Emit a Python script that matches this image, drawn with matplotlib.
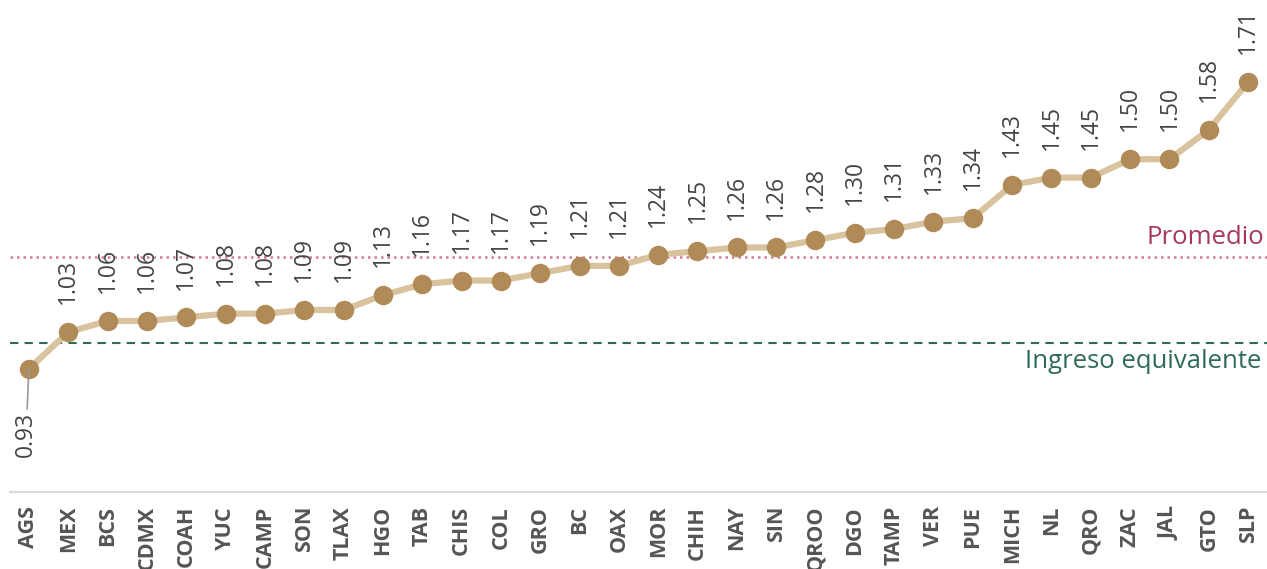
import matplotlib
matplotlib.use("Agg")
import matplotlib.pyplot as plt

plt.rcParams['font.family'] = ['Open Sans', 'DejaVu Sans']

states = ["AGS", "MEX", "BCS", "CDMX", "COAH", "YUC", "CAMP", "SON", "TLAX", "HGO",
          "TAB", "CHIS", "COL", "GRO", "BC", "OAX", "MOR", "CHIH", "NAY", "SIN",
          "QROO", "DGO", "TAMP", "VER", "PUE", "MICH", "NL", "QRO", "ZAC", "JAL",
          "GTO", "SLP"]
values = [0.93, 1.03, 1.06, 1.06, 1.07, 1.08, 1.08, 1.09, 1.09, 1.13,
          1.16, 1.17, 1.17, 1.19, 1.21, 1.21, 1.24, 1.25, 1.26, 1.26,
          1.28, 1.30, 1.31, 1.33, 1.34, 1.43, 1.45, 1.45, 1.50, 1.50,
          1.58, 1.71]
promedio = 1.235
ingreso_equivalente = 1.0

W, H = 1267, 569
fig = plt.figure(figsize=(W / 100, H / 100), dpi=100)
ax = fig.add_axes([10 / W, (H - 492) / H, 1257 / W, 492 / H])

x = list(range(len(states)))
ax.plot(x, values, color="#d8c39e", lw=4.5, zorder=2, solid_capstyle="round")
ax.plot(x, values, 'o', color="#b08a57", ms=13, zorder=3)

ax.axhline(promedio, color="#cf7f94", lw=1.8, ls=(0, (1, 1.6)), zorder=1)
ax.axhline(ingreso_equivalente, color="#2f6b52", lw=1.5, ls=(0, (4, 3)), zorder=1)
ax.annotate("Promedio", xy=(1.0, promedio), xycoords=ax.get_yaxis_transform(),
            xytext=(-2, 5), textcoords="offset points",
            ha="right", va="bottom", color="#a6385a", fontsize=18.5)
ax.annotate("Ingreso equivalente", xy=(1.0, ingreso_equivalente), xycoords=ax.get_yaxis_transform(),
            xytext=(-4, -4), textcoords="offset points",
            ha="right", va="top", color="#2f6b52", fontsize=18.5)

for i, v in enumerate(values):
    if i == 0:
        ax.annotate(f"{v:.2f}", xy=(i, v), xytext=(-2, -31), textcoords="offset points",
                    rotation=90, ha="center", va="top", fontsize=16.5, color="#444444",
                    arrowprops=dict(arrowstyle="-", color="#999999", lw=1.2,
                                    shrinkA=0, shrinkB=0))
    else:
        ax.annotate(f"{v:.2f}", xy=(i, v), xytext=(0, 20), textcoords="offset points",
                    rotation=90, ha="center", va="bottom", fontsize=16.5, color="#444444")

ax.set_xlim(-0.48, len(states) - 0.52)
ax.set_ylim(0.595, 1.933)
ax.set_xticks(x)
ax.set_xticklabels(states, rotation=90, fontsize=15.5, fontweight="bold", color="#555555")
ax.tick_params(axis="x", length=0, pad=10)
ax.set_yticks([])
for s in ["top", "right", "left"]:
    ax.spines[s].set_visible(False)
ax.spines["bottom"].set_color("#d9d9d9")
ax.spines["bottom"].set_linewidth(1.6)

fig.savefig("out.png", dpi=100)
